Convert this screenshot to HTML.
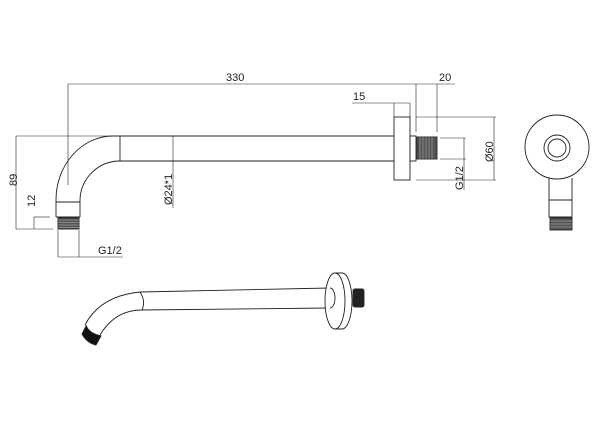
<!DOCTYPE html>
<html><head><style>body{margin:0;background:#fff}svg{display:block}</style></head><body>
<svg width="600" height="441" viewBox="0 0 600 441" xmlns="http://www.w3.org/2000/svg" font-family="Liberation Sans, sans-serif" font-size="11" fill="none" stroke="#222" stroke-width="0.9">
<!-- dims top -->
<line x1="68" y1="84" x2="437" y2="84" stroke-width="0.6"/>
<line x1="68" y1="84" x2="68" y2="185" stroke-width="0.6"/>
<line x1="416" y1="84" x2="416" y2="132" stroke-width="0.6"/>
<line x1="437" y1="84" x2="437" y2="132" stroke-width="0.6"/>
<line x1="437" y1="84" x2="455" y2="84" stroke-width="0.6"/>
<text x="439" y="81" fill="#222" stroke="none">20</text>
<text x="226" y="81" fill="#222" stroke="none">330</text>
<line x1="352" y1="103" x2="410" y2="103" stroke-width="0.6"/>
<line x1="394" y1="103" x2="394" y2="117" stroke-width="0.6"/>
<line x1="410" y1="103" x2="410" y2="117" stroke-width="0.6"/>
<text x="353" y="100" fill="#222" stroke="none">15</text>
<!-- pipe -->
<line x1="16" y1="136" x2="113" y2="136" stroke-width="0.6"/>
<line x1="113" y1="136" x2="394" y2="136"/>
<line x1="120" y1="161" x2="394" y2="161"/>
<line x1="120" y1="136" x2="120" y2="161"/>
<path d="M113 136 A57 64 0 0 0 56 200 L56 217"/>
<path d="M120 161 A40 40 0 0 0 80 200 L80 217"/>
<line x1="56" y1="202" x2="80" y2="202"/>
<line x1="56" y1="217" x2="80" y2="217"/>
<rect x="58" y="218" width="21" height="11" fill="#555" stroke="#222"/>
<g stroke="#bbb" stroke-width="0.5"><line x1="58" y1="220" x2="79" y2="220"/><line x1="58" y1="222.5" x2="79" y2="222.5"/><line x1="58" y1="225" x2="79" y2="225"/><line x1="58" y1="227.5" x2="79" y2="227.5"/></g>
<!-- 89 / 12 -->
<line x1="16" y1="136" x2="16" y2="229" stroke-width="0.6"/>
<line x1="16" y1="229" x2="53" y2="229" stroke-width="0.6"/>
<line x1="34" y1="217" x2="50" y2="217" stroke-width="0.6"/>
<line x1="34" y1="217" x2="34" y2="229" stroke-width="0.6"/>
<text transform="translate(17,186) rotate(-90)" fill="#222" stroke="none">89</text>
<text transform="translate(35,207) rotate(-90)" fill="#222" stroke="none">12</text>
<!-- G1/2 bottom -->
<line x1="58" y1="230" x2="58" y2="257" stroke-width="0.6"/>
<line x1="79" y1="230" x2="79" y2="257" stroke-width="0.6"/>
<line x1="58" y1="257" x2="123" y2="257" stroke-width="0.6"/>
<text x="98" y="254" fill="#222" stroke="none">G1/2</text>
<!-- Ø24 -->
<line x1="173" y1="136" x2="173" y2="208" stroke-width="0.6"/>
<text transform="translate(172,205) rotate(-90)" fill="#222" stroke="none">Ø24*1</text>
<!-- flange -->
<rect x="394" y="117" width="16" height="63" fill="#fff"/>
<rect x="410" y="136" width="6" height="25" fill="#fff"/>
<rect x="417" y="137" width="20" height="22" fill="#555" stroke="#222"/>
<g stroke="#bbb" stroke-width="0.5"><line x1="420" y1="137" x2="420" y2="159"/><line x1="423" y1="137" x2="423" y2="159"/><line x1="426" y1="137" x2="426" y2="159"/><line x1="429" y1="137" x2="429" y2="159"/><line x1="432" y1="137" x2="432" y2="159"/></g>
<line x1="440" y1="138" x2="466" y2="138" stroke-width="0.6"/>
<line x1="440" y1="159" x2="466" y2="159" stroke-width="0.6"/>
<line x1="464" y1="138" x2="464" y2="190" stroke-width="0.6"/>
<text transform="translate(463,190) rotate(-90)" fill="#222" stroke="none">G1/2</text>
<line x1="416" y1="117" x2="496" y2="117" stroke-width="0.6"/>
<line x1="416" y1="180" x2="496" y2="180" stroke-width="0.6"/>
<line x1="494" y1="117" x2="494" y2="180" stroke-width="0.6"/>
<text transform="translate(493,162) rotate(-90)" fill="#222" stroke="none">Ø60</text>
<!-- side view -->
<path d="M549 178 L549 217 L572 217 L572 178"/>
<line x1="549" y1="200" x2="572" y2="200"/>
<circle cx="557" cy="147" r="32" fill="#fff"/>
<circle cx="557" cy="148" r="13"/>
<circle cx="557" cy="148" r="9"/>
<rect x="550" y="218" width="22" height="12" fill="#555" stroke="#222"/>
<g stroke="#bbb" stroke-width="0.5"><line x1="550" y1="221" x2="572" y2="221"/><line x1="550" y1="224" x2="572" y2="224"/><line x1="550" y1="227" x2="572" y2="227"/></g>
<!-- 3D view -->
<path d="M140 292 L330 288"/>
<path d="M142 310 L330 308"/>
<path d="M140 292 Q100 296 85 325"/>
<path d="M142 310 Q115 310 100 335"/>
<path d="M140 292 Q146 301 142 310"/>
<path d="M86 325 Q88 333 101 336"/>
<path d="M82 334 Q87 343 96 345 L101 336 Q90 334 86 326 Z" fill="#111"/>
<ellipse cx="335" cy="301" rx="10" ry="28" fill="#fff"/>
<path d="M335 273 L342 273 A10 28 0 0 1 342 329 L335 329"/>
<rect x="353" y="289" width="11" height="18" rx="2" fill="#222"/>
<path d="M330 288 A5 10 0 0 1 330 308"/>
</svg>
</body></html>
